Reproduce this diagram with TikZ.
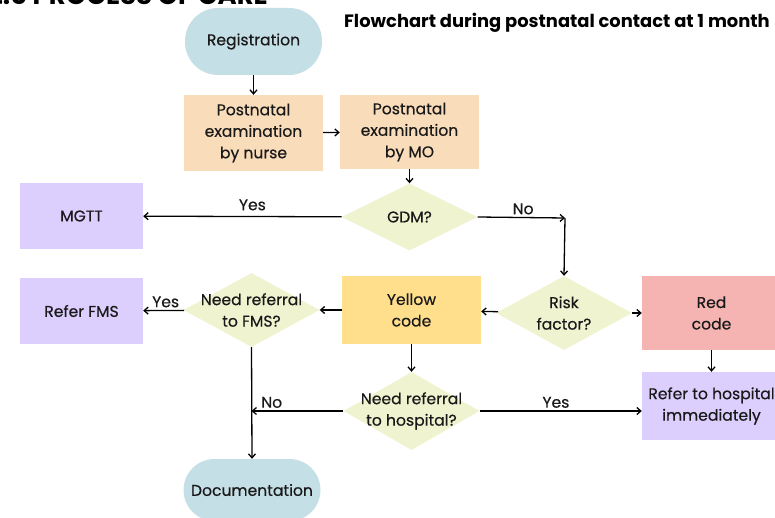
\documentclass[tikz,border=0pt]{standalone}
\usepackage{fontspec}
\setmainfont{Poppins}
\newfontfamily\pmed[FakeBold=0.4]{Poppins}
\usetikzlibrary{arrows.meta,shapes.geometric}
\definecolor{cblue}{HTML}{C5DFE6}
\definecolor{cpeach}{HTML}{F9DCBA}
\definecolor{cdia}{HTML}{F0F3D0}
\definecolor{clav}{HTML}{DDCFFD}
\definecolor{cyel}{HTML}{FFDF8C}
\definecolor{cred}{HTML}{F5B4B2}
\tikzset{
  txt/.style={font=\pmed\fontsize{15.6}{21.5}\selectfont, align=center, text=black!90},
  stadium/.style={txt, fill=cblue, minimum width=137pt, minimum height=67pt, rounded corners=33pt, inner sep=0pt},
  box/.style={txt, fill=#1, minimum width=139pt, minimum height=70pt, inner sep=0pt},
  dia/.style={shape=diamond, fill=cdia, minimum width=136pt, minimum height=#1, inner sep=0pt},
  arr/.style={-{Straight Barb[length=4pt,width=7pt]}, line width=1.3pt, black},
  lbl/.style={txt, inner sep=2.5pt}
}
\begin{document}
\begin{tikzpicture}[x=1pt,y=-1pt]
\useasboundingbox (0,0) rectangle (775,518);
\begin{scope}
\clip (0,0) rectangle (775,518);
% titles
\node[anchor=base east, font=\fontsize{26}{26}\selectfont\bfseries, inner sep=0pt] (sec) at (268,4.5) {2.5 PROCESS OF CARE};
\node[anchor=west, font=\fontsize{17.9}{20}\selectfont\bfseries, inner sep=0pt] (title) at (344,23) {Flowchart during postnatal contact at 1 month};
% nodes
\node[stadium] (reg) at (253.5,41.5) {Registration};
\node[box=cpeach, minimum height=76pt] (nurse) at (253.5,133) {Postnatal\\examination\\by nurse};
\node[box=cpeach, minimum height=74pt] (mo) at (409.5,132) {Postnatal\\examination\\by MO};
\node[dia=67pt, label={[txt]center:GDM?}] (gdm) at (409.5,217) {};
\node[box=clav, minimum width=123pt, minimum height=66pt] (mgtt) at (81.5,216) {MGTT};
\coordinate (c1) at (565,218);
\node[dia=74pt, label={[txt]center:Risk\\factor?}] (risk) at (564,313) {};
\node[box=cyel, minimum height=68pt] (yel) at (411.5,310) {Yellow\\code};
\node[box=cred, minimum height=74pt] (red) at (711.5,313) {Red\\code};
\node[box=clav, minimum height=68pt] (rhosp) at (711.5,406) {Refer to hospital\\immediately};
\node[dia=74pt, label={[txt]center:Need referral\\to FMS?}] (fms) at (251.5,310) {};
\node[box=clav, minimum width=123pt, minimum height=66pt] (rfms) at (81.5,311) {Refer FMS};
\node[dia=78pt, label={[txt]center:Need referral\\to hospital?}] (hosp) at (411.5,411) {};
\node[stadium, minimum height=62pt, rounded corners=31pt] (doc) at (252,490) {Documentation};
% connectors
\draw[arr] (reg) -- (nurse);
\draw[arr] (nurse) -- (mo);
\draw[arr] (mo) -- (gdm);
\draw[arr] (gdm) -- node[lbl, above, pos=0.45, yshift=3pt] {Yes} (mgtt);
\draw[arr] (gdm.east) -- node[lbl, above, pos=0.52] {No} (c1);
\draw[arr] (c1) -- (risk.north);
\draw[arr] (risk) -- (yel);
\draw[arr] (risk) -- (red);
\draw[arr] (red) -- (rhosp);
\draw[arr] (yel) -- (fms);
\draw[arr] (fms) -- node[lbl, above, pos=0.45] {Yes} (rfms);
\draw[arr] (yel) -- (hosp);
\draw[arr] (hosp) -- node[lbl, above, pos=0.47] {Yes} (rhosp.west |- hosp);
\draw[arr] (hosp.west) -- node[lbl, above, pos=0.78] {No} (hosp.west -| fms.south);
\draw[arr] (fms.south) -- (doc.north);
\end{scope}
\end{tikzpicture}
\end{document}
